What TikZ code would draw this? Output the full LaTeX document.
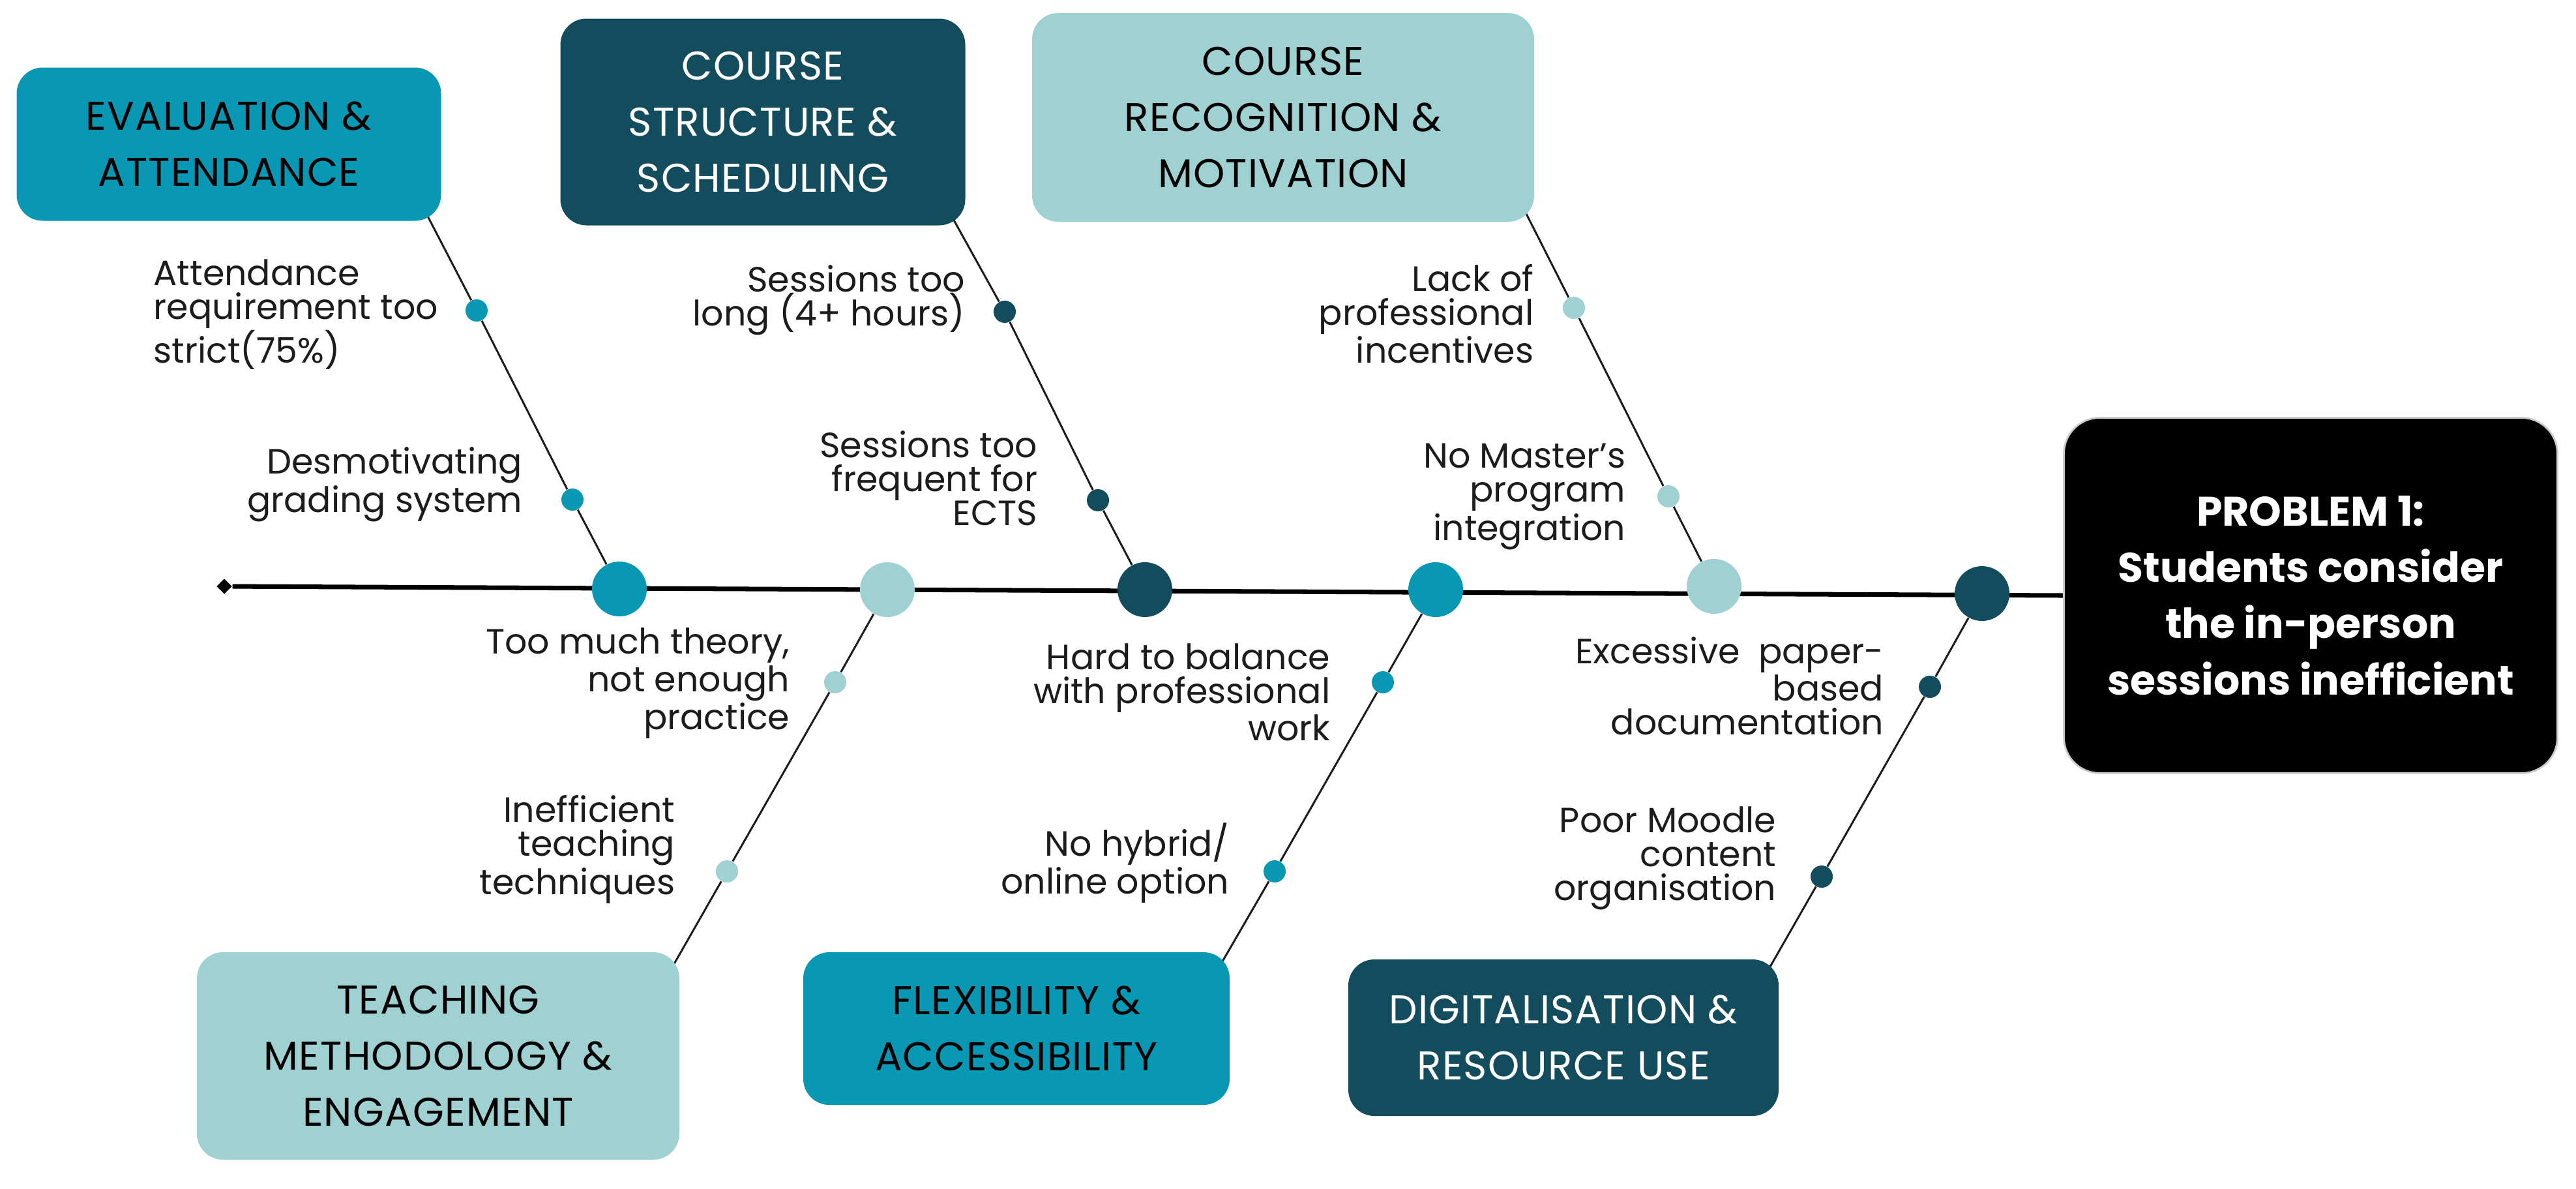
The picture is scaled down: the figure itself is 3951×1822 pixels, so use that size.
\documentclass[tikz,border=0pt]{standalone}
\usepackage{fontspec}
\setmainfont{Poppins}
\usepackage{tikz}
\usetikzlibrary{shapes.geometric}
\definecolor{teal1}{HTML}{0898B4}
\definecolor{navy1}{HTML}{134C5D}
\definecolor{mint1}{HTML}{9FD1D3}
\definecolor{ink}{HTML}{1C1C1C}
\pgfdeclarelayer{bg}
\pgfsetlayers{bg,main}

\begin{document}
\begin{tikzpicture}[x=0.1mm,y=0.1mm,yscale=-1,
  catbox/.style={rounded corners=4mm, inner sep=0pt, align=center, font=\fontsize{17.5}{24.5}\selectfont\addfontfeatures{LetterSpace=2}},
  hub/.style={circle, inner sep=0pt, minimum size=8.4mm},
  pin/.style={circle, inner sep=0pt, minimum size=3.4mm},
  cause/.style={inner sep=0pt, text=ink, font=\fontsize{15.3}{14.8}\selectfont},
  spine/.style={line width=2pt, black},
  bone/.style={line width=0.85pt, ink}]
\useasboundingbox (0,0) rectangle (3951,1822);

%Shape: category boxes
\node[catbox, fill=teal1, minimum width=65.1mm, minimum height=23.5mm] (evbox) at (351,221) {EVALUATION \&\\ATTENDANCE};
\node[catbox, fill=navy1, text=white, minimum width=62.1mm, minimum height=31.7mm] (stbox) at (1170,187) {COURSE\\STRUCTURE \&\\SCHEDULING};
\node[catbox, fill=mint1, minimum width=77mm, minimum height=32mm] (rcbox) at (1968,180) {COURSE\\RECOGNITION \&\\MOTIVATION};
\node[catbox, fill=mint1, minimum width=74mm, minimum height=31.8mm] (tmbox) at (672,1619) {TEACHING\\METHODOLOGY \&\\ENGAGEMENT};
\node[catbox, fill=teal1, minimum width=65.4mm, minimum height=23.4mm] (flbox) at (1559,1577) {FLEXIBILITY \&\\ACCESSIBILITY};
\node[catbox, fill=navy1, text=white, minimum width=66mm, minimum height=24mm] (dgbox) at (2398,1591) {DIGITALISATION \&\\RESOURCE USE};

%Shape: problem box
\node[rounded corners=5.5mm, fill=black, draw=black!20, line width=0.8pt, text=white, minimum width=75.7mm, minimum height=54.5mm, align=center, inner sep=0pt, font=\fontsize{18}{24.5}\selectfont\bfseries] (problem) at (3544,913) {PROBLEM 1:\\Students consider\\the in-person\\sessions inefficient};

%Shape: tail of the spine
\node[diamond, fill=black, inner sep=0pt, minimum size=2.4mm] (tail) at (344,899) {};

%Shape: hubs on the spine
\node[hub, fill=teal1] (evhub) at (950,903) {};
\node[hub, fill=mint1] (tmhub) at (1361,904) {};
\node[hub, fill=navy1] (sthub) at (1756,904) {};
\node[hub, fill=teal1] (flhub) at (2202,904) {};
\node[hub, fill=mint1] (rchub) at (2629,899) {};
\node[hub, fill=navy1] (dghub) at (3040,910) {};

%Shape: pins on the bones
\node[pin, fill=teal1] (evpa) at (731,476) {};
\node[pin, fill=teal1] (evpb) at (878,766) {};
\node[pin, fill=navy1] (stpa) at (1541,478) {};
\node[pin, fill=navy1] (stpb) at (1684,767) {};
\node[pin, fill=mint1] (rcpa) at (2414,472) {};
\node[pin, fill=mint1] (rcpb) at (2559,761) {};
\node[pin, fill=mint1] (tmpa) at (1281,1046) {};
\node[pin, fill=mint1] (tmpb) at (1115,1336) {};
\node[pin, fill=teal1] (flpa) at (2121,1046) {};
\node[pin, fill=teal1] (flpb) at (1955,1336) {};
\node[pin, fill=navy1] (dgpa) at (2960,1053) {};
\node[pin, fill=navy1] (dgpb) at (2794,1344) {};

% bone ends (hidden under the boxes)
\coordinate (evend) at (650,320);
\coordinate (stend) at (1456,325);
\coordinate (rcend) at (2336,318);
\coordinate (tmend) at (1027,1490);
\coordinate (flend) at (1868,1486);
\coordinate (dgend) at (2707,1496);

% Text Node
\node[cause, anchor=west, align=left] (c1) at (235,482) {Attendance\\requirement too\\strict(75\%)};
% Text Node
\node[cause, anchor=east, align=right] (c2) at (802,743) {Desmotivating\\grading system};
% Text Node
\node[cause, anchor=east, align=right] (c3) at (1481,460) {Sessions too\\long (4+ hours)};
% Text Node
\node[cause, anchor=east, align=right] (c4) at (1592,733) {Sessions too\\frequent for\\ECTS};
% Text Node
\node[cause, anchor=east, align=right] (c5) at (2353,481) {Lack of\\professional\\incentives};
% Text Node
\node[cause, anchor=east, align=right] (c6) at (2494,761) {No Master’s\\program\\integration};
% Text Node
\node[cause, anchor=east, align=right] (c7) at (1212,1048) {Too much theory,\\not enough\\practice};
% Text Node
\node[cause, anchor=east, align=right] (c8) at (1036,1302) {Inefficient\\teaching\\techniques};
% Text Node
\node[cause, anchor=east, align=right] (c9) at (2041,1061) {Hard to balance\\with professional\\work};
% Text Node
\node[cause, anchor=east, align=right] (c10) at (1886,1323) {No hybrid/\\online option};
% Text Node
\node[cause, anchor=east, align=right] (c11) at (2890,1052) {Excessive\ \ paper-\\based\\documentation};
% Text Node
\node[cause, anchor=east, align=right] (c12) at (2725,1316) {Poor Moodle\\content\\organisation};

\begin{pgfonlayer}{bg}
%Straight Lines
\draw[spine] (tail) -- (problem.west);
\draw[bone] (evhub) -- (evpb) -- (evpa) -- (evend);
\draw[bone] (sthub) -- (stpb) -- (stpa) -- (stend);
\draw[bone] (rchub) -- (rcpb) -- (rcpa) -- (rcend);
\draw[bone] (tmhub) -- (tmpa) -- (tmpb) -- (tmend);
\draw[bone] (flhub) -- (flpa) -- (flpb) -- (flend);
\draw[bone] (dghub) -- (dgpa) -- (dgpb) -- (dgend);
\end{pgfonlayer}

\end{tikzpicture}
\end{document}
